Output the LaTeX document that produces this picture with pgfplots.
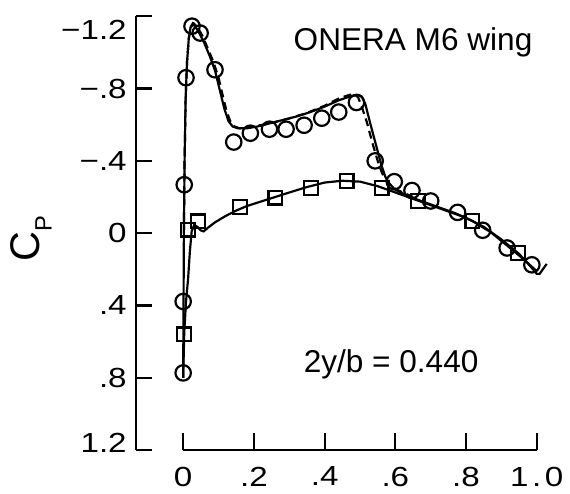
\documentclass[border=0pt]{standalone}
\usepackage{fontspec}
\setmainfont{Liberation Sans}
\usepackage{pgfplots}
\pgfplotsset{compat=1.18}
\newcommand{\tl}[1]{\scalebox{1.2}[1]{#1}}
\begin{document}
\begin{tikzpicture}
\begin{axis}[
  x=178.5bp, y=91.25bp, y dir=reverse,
  xmin=0, xmax=1, ymin=-1.2, ymax=1.2,
  axis x line*=bottom, axis y line*=left,
  axis y line shift=24bp,
  clip=false,
  tick align=inside,
  major tick length=8.5bp,
  every tick/.style={black, line width=1.1bp},
  axis line style={line width=1.1bp},
  xtick={0,0.2,0.4,0.6,0.8,1.0},
  xticklabels={\tl{0},\tl{.2},\tl{.4},\tl{.6},\tl{.8},\tl{1\kern1.5bp.\kern1.5bp0}},
  ytick={-1.2,-0.8,-0.4,0,0.4,0.8,1.2},
  yticklabels={\raisebox{-7bp}[\height][\depth]{\tl{−1.2}},\tl{−.8},\tl{−.4},\tl{0},\tl{.4},\tl{.8},\raisebox{3.5bp}[\height][\depth]{\tl{1.2}}},
  /pgf/number format/assume math mode=true,
  tick label style={font=\fontsize{14}{17}\selectfont},
  yticklabel style={xshift=-1bp},
  xticklabel style={yshift=-5bp},
  ylabel={\fontsize{21}{24}\selectfont C\raisebox{-6bp}{\fontsize{12}{14}\selectfont P}},
  ylabel style={at={(axis cs:-0.43,0.03)}, anchor=center},
]
% bounding box
\path (axis cs:-0.518,-1.288) rectangle (axis cs:1.078,1.430);

% solid line, upper surface
\addplot[black, line width=1.1bp] coordinates {
(0,0.80) (0.001,0.4) (0.002,0.0) (0.004,-0.4) (0.007,-0.75) (0.011,-0.95)
(0.016,-1.08) (0.021,-1.14) (0.027,-1.16) (0.035,-1.14) (0.045,-1.11)
(0.06,-1.05) (0.075,-0.98) (0.09,-0.90) (0.105,-0.78) (0.117,-0.685)
(0.128,-0.62) (0.14,-0.59) (0.155,-0.58) (0.18,-0.58) (0.21,-0.59)
(0.24,-0.605) (0.28,-0.625) (0.32,-0.645) (0.36,-0.67) (0.40,-0.70)
(0.44,-0.735) (0.47,-0.755) (0.495,-0.765) (0.505,-0.755) (0.515,-0.715)
(0.53,-0.60) (0.545,-0.49) (0.56,-0.38) (0.572,-0.31) (0.585,-0.27)
(0.60,-0.24) (0.63,-0.21) (0.67,-0.18) (0.72,-0.145) (0.77,-0.11)
(0.82,-0.065) (0.87,-0.005) (0.92,0.075) (0.96,0.14) (1.0,0.21)
};
% solid line, lower surface
\addplot[black, line width=1.1bp] coordinates {
(0,0.80) (0.003,0.55) (0.008,0.38) (0.014,0.25) (0.019,0.10) (0.024,-0.01)
(0.031,-0.045) (0.04,-0.035) (0.05,-0.015) (0.058,-0.01) (0.07,-0.03)
(0.09,-0.06) (0.12,-0.095) (0.15,-0.125) (0.18,-0.15) (0.22,-0.175)
(0.26,-0.20) (0.30,-0.225) (0.35,-0.255) (0.40,-0.28) (0.45,-0.29)
(0.50,-0.285) (0.55,-0.26) (0.60,-0.225) (0.65,-0.19) (0.70,-0.155)
(0.75,-0.12) (0.80,-0.085) (0.85,-0.035) (0.90,0.035) (0.95,0.115)
(0.985,0.19) (1.0,0.225) (1.008,0.225) (1.028,0.17)
};
% dashed line
\addplot[black, line width=1.1bp, dash pattern=on 4bp off 2.5bp] coordinates {
(0.002,0.0) (0.004,-0.4) (0.007,-0.75) (0.011,-0.95) (0.016,-1.08)
(0.022,-1.14) (0.03,-1.16) (0.04,-1.14) (0.055,-1.09) (0.07,-1.02)
(0.085,-0.95) (0.10,-0.86) (0.112,-0.76) (0.122,-0.68) (0.133,-0.62)
(0.145,-0.59) (0.16,-0.58) (0.2,-0.59) (0.25,-0.61) (0.3,-0.635)
(0.35,-0.665) (0.40,-0.705) (0.44,-0.745) (0.47,-0.765) (0.485,-0.77)
(0.495,-0.75) (0.505,-0.70) (0.52,-0.61) (0.535,-0.50) (0.55,-0.40)
(0.563,-0.33) (0.575,-0.29) (0.59,-0.26) (0.61,-0.235) (0.65,-0.20)
};
% circles
\addplot[only marks, mark=o, mark size=3.9bp, mark options={black, line width=1.1bp}] coordinates {
(0.0,0.773) (0.0,0.378) (0.003,-0.268) (0.008,-0.86) (0.025,-1.145)
(0.048,-1.107) (0.090,-0.904) (0.143,-0.504) (0.190,-0.553) (0.244,-0.575)
(0.291,-0.575) (0.342,-0.597) (0.392,-0.636) (0.440,-0.670) (0.490,-0.723)
(0.543,-0.400) (0.597,-0.285) (0.647,-0.236) (0.700,-0.178) (0.776,-0.115)
(0.847,-0.016) (0.916,0.082) (0.986,0.175)
};
% squares
\addplot[only marks, mark=square, mark size=3.5bp, mark options={black, line width=1.1bp}] coordinates {
(0.003,0.56) (0.014,-0.02) (0.042,-0.065) (0.161,-0.145) (0.261,-0.197)
(0.361,-0.25) (0.462,-0.29) (0.561,-0.248) (0.664,-0.177) (0.818,-0.068)
(0.947,0.11)
};
\node[font=\fontsize{16}{19}\selectfont] at (axis cs:0.65,-1.058) {ONERA M6 wing};
\node[font=\fontsize{16}{19}\selectfont] at (axis cs:0.588,0.725) {2y/b = 0.440};
\end{axis}
\end{tikzpicture}
\end{document}
